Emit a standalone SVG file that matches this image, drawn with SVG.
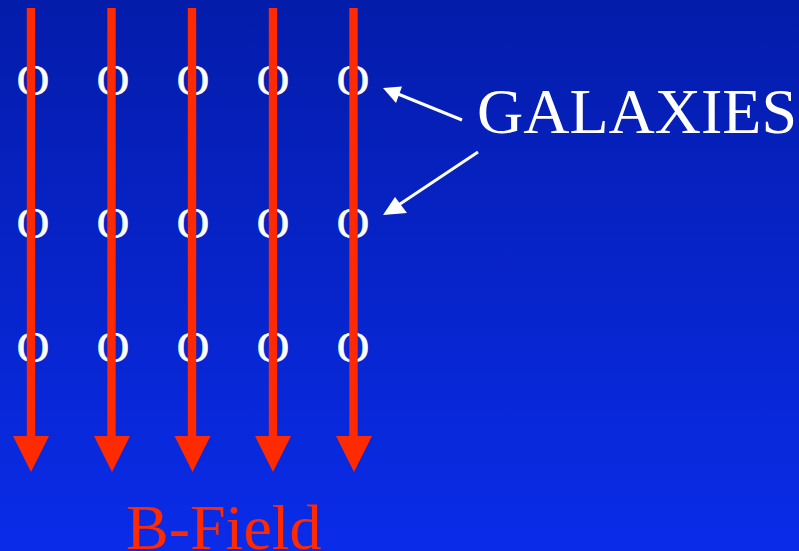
<svg xmlns="http://www.w3.org/2000/svg" width="799" height="551" viewBox="0 0 799 551">
<defs>
<linearGradient id="bg" x1="0" y1="0" x2="0" y2="1">
<stop offset="0" stop-color="#041caa"/>
<stop offset="1" stop-color="#0a2ce9"/>
</linearGradient>
<style>
.field{stroke:#ff2a00;stroke-width:8.4;fill:none}
.head{fill:#ff2a00}
.gal{font-family:"Liberation Serif","Times New Roman",serif;font-size:45px;fill:#fff;stroke:#fff;stroke-width:0.6;text-anchor:middle}
.lbl{font-family:"Liberation Serif","Times New Roman",serif;font-size:64px}
.ptr{stroke:#fff;stroke-width:3;fill:none}
</style>
</defs>
<rect width="799" height="551" fill="url(#bg)"/>
<g id="galaxies">
<text class="gal" x="33" y="95">O</text>
<text class="gal" x="113" y="95">O</text>
<text class="gal" x="193" y="95">O</text>
<text class="gal" x="273" y="95">O</text>
<text class="gal" x="353" y="95">O</text>
<text class="gal" x="33" y="238">O</text>
<text class="gal" x="113" y="238">O</text>
<text class="gal" x="193" y="238">O</text>
<text class="gal" x="273" y="238">O</text>
<text class="gal" x="353" y="238">O</text>
<text class="gal" x="33" y="362">O</text>
<text class="gal" x="113" y="362">O</text>
<text class="gal" x="193" y="362">O</text>
<text class="gal" x="273" y="362">O</text>
<text class="gal" x="353" y="362">O</text>
</g>
<g id="field-lines">
<line class="field" x1="31" y1="8" x2="31" y2="440"/>
<polygon class="head" points="13,436 49,436 31,472"/>
<line class="field" x1="111.5" y1="8" x2="111.5" y2="440"/>
<polygon class="head" points="94,436 130,436 112,472"/>
<line class="field" x1="192" y1="8" x2="192" y2="440"/>
<polygon class="head" points="174.5,436 210.5,436 192.5,472"/>
<line class="field" x1="273" y1="8" x2="273" y2="440"/>
<polygon class="head" points="255,436 291,436 273,472"/>
<line class="field" x1="353.5" y1="8" x2="353.5" y2="440"/>
<polygon class="head" points="336,436 372,436 354,472"/>
</g>
<g id="connectors">
<line class="ptr" x1="462" y1="120" x2="398" y2="94"/>
<polygon fill="#fff" points="383,88 402,86.5 396,103"/>
<line class="ptr" x1="478" y1="152" x2="397" y2="206"/>
<polygon fill="#fff" points="383,215 395,197 407,213"/>
</g>
<g id="label-galaxies">
<text class="lbl" x="477" y="133" fill="#fff">GALAXIES</text>
</g>
<g id="label-bfield">
<text class="lbl" x="126" y="549" fill="#ff2a00">B-Field</text>
</g>
</svg>
